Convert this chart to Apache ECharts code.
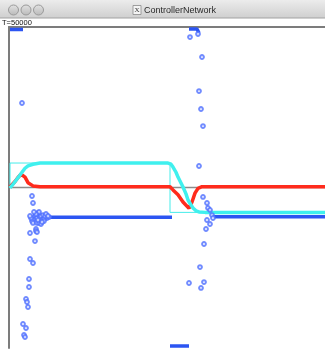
<!DOCTYPE html>
<html>
<head>
<meta charset="utf-8">
<script src="https://cdn.jsdelivr.net/npm/echarts/dist/echarts.min.js"></script>
<style>
html, body { margin: 0; padding: 0; background: #fff; }
#chart { width: 325px; height: 354px; }
</style>
</head>
<body>
<div id="chart"></div>
<script>
// Setpoint (thin step line)
const stepT = [1, 1, 161, 161, 316];
const stepV = [0, 0.305, 0.305, -0.31, -0.31];

// Plant output (cyan)
const outT = [1, 5, 8, 11, 13, 16, 19, 24, 31, 159, 162, 164, 167, 169, 172, 174, 177, 179, 182, 184, 187, 190, 196, 316];
const outV = [-0.006, 0.056, 0.106, 0.156, 0.19, 0.24, 0.27, 0.29, 0.305, 0.305, 0.29, 0.255, 0.19, 0.13, 0.056, 0.006, -0.08, -0.156, -0.218, -0.255, -0.29, -0.305, -0.31, -0.31];

// Controller error (red)
const errT = [1, 3, 6, 9, 12, 14, 16, 19, 24, 31, 161, 164, 169, 174, 180, 183, 186, 189, 193, 316];
const errV = [0.006, 0.025, 0.075, 0.125, 0.165, 0.18, 0.13, 0.06, 0.02, 0.009, 0.009, -0.03, -0.09, -0.18, -0.26, -0.18, -0.07, -0.01, 0.01, 0.01];

// Control signal, settled / saturated stretches (blue, null = gap)
const ctlRunT = [1, 14, null, 36, 163, null, 161, 180, null, 180, 188, 190, null, 204, 316];
const ctlRunV = [1.97, 1.97, null, -0.37, -0.37, null, -1.975, -1.975, null, 1.975, 1.975, 1.925, null, -0.365, -0.365];

// Control signal, transient samples (blue circles)
const ctlT = [13, 23, 24, 29, 26, 27, 28, 31, 32, 33, 34, 24, 23, 24, 28, 30, 32, 38, 40, 35, 27, 21, 27, 28, 26, 21, 24, 20, 20, 17, 18, 19, 14, 17, 15, 16,
  36, 37, 39, 35, 30, 27, 25, 22, 21, 29, 33,
  189, 181, 193, 190, 192, 194, 190, 194, 198, 199, 201, 203, 204, 198, 201, 197, 195, 191, 180, 195, 192];
const ctlV = [1.053, -0.106, -0.193, -0.318, -0.355, -0.343, -0.38, -0.368, -0.355, -0.405, -0.343, -0.405, -0.418, -0.442, -0.442, -0.442, -0.455, -0.38, -0.368, -0.393, -0.517, -0.567, -0.542, -0.555, -0.667, -0.891, -0.941, -1.14, -1.24, -1.389, -1.427, -1.489, -1.701, -1.751, -1.838, -1.863,
  -0.355, -0.33, -0.355, -0.418, -0.305, -0.33, -0.305, -0.38, -0.355, -0.405, -0.43,
  1.913, 1.875, 1.626, 1.202, 0.978, 0.766, 0.268, -0.118, -0.193, -0.255, -0.28, -0.343, -0.38, -0.405, -0.455, -0.517, -0.704, -0.991, -1.19, -1.178, -1.252];

const windowTitle = 'ControllerNetwork';
const timeLabel = 'T=50000';

function pairs(xs, ys) {
  return xs.map((x, i) => (x === null ? [null, null] : [x, ys[i]]));
}

const chart = echarts.init(document.getElementById('chart'), null, { renderer: 'canvas' });

const buttonFill = {
  type: 'linear', x: 0, y: 0, x2: 0, y2: 1,
  colorStops: [{ offset: 0, color: '#e4e4e4' }, { offset: 1, color: '#b8b8b8' }]
};

chart.setOption({
  animation: false,
  backgroundColor: '#ffffff',
  grid: { left: 9, right: 0, top: 27, bottom: 6 },
  xAxis: {
    type: 'value', min: 0, max: 316, position: 'top',
    axisLine: { show: true, onZero: false, lineStyle: { color: '#7c7c7c', width: 2 } },
    axisTick: { show: false }, axisLabel: { show: false }, splitLine: { show: false }
  },
  yAxis: {
    type: 'value', min: -2, max: 2,
    axisLine: { show: true, onZero: false, lineStyle: { color: '#7c7c7c', width: 2 } },
    axisTick: { show: false }, axisLabel: { show: false }, splitLine: { show: false }
  },
  graphic: [
    {
      type: 'rect', left: 0, top: 0, z: 10,
      shape: { width: 325, height: 18 },
      style: { fill: { type: 'linear', x: 0, y: 0, x2: 0, y2: 1,
        colorStops: [{ offset: 0, color: '#ececec' }, { offset: 1, color: '#cfcfcf' }] } }
    },
    { type: 'line', z: 11, shape: { x1: 0, y1: 18, x2: 325, y2: 18 }, style: { stroke: '#a2a2a2', lineWidth: 1 } },
    { type: 'circle', z: 11, shape: { cx: 13.5, cy: 10, r: 5 }, style: { fill: buttonFill, stroke: '#9a9a9a', lineWidth: 1 } },
    { type: 'circle', z: 11, shape: { cx: 26, cy: 10, r: 5 }, style: { fill: buttonFill, stroke: '#9a9a9a', lineWidth: 1 } },
    { type: 'circle', z: 11, shape: { cx: 38.5, cy: 10, r: 5 }, style: { fill: buttonFill, stroke: '#9a9a9a', lineWidth: 1 } },
    { type: 'rect', z: 11, shape: { x: 133, y: 5.5, width: 8, height: 9 }, style: { fill: '#f4f4f4', stroke: '#8a8a8a', lineWidth: 0.8 } },
    { type: 'text', z: 12, x: 137, y: 10, style: { text: 'X', font: '7px "Liberation Serif"', fill: '#333', align: 'center', verticalAlign: 'middle' } },
    { type: 'text', z: 12, x: 144, y: 10.5, style: { text: windowTitle, font: '9px "Liberation Sans"', fill: '#2a2a2a', verticalAlign: 'middle' } },
    { type: 'text', z: 12, x: 2, y: 22.5, style: { text: timeLabel, font: '7.5px "Liberation Sans"', fill: '#111', verticalAlign: 'middle' } }
  ],
  series: [
    {
      name: 'zero', type: 'line', data: [[0, 0], [316, 0]], showSymbol: false, silent: true, z: 1,
      lineStyle: { color: '#8c8c8c', width: 1.5 }
    },
    {
      name: 'setpoint', type: 'line', data: pairs(stepT, stepV), showSymbol: false, silent: true, z: 2,
      lineStyle: { color: '#45ecea', width: 1 }
    },
    {
      name: 'error', type: 'line', data: pairs(errT, errV), showSymbol: false, z: 3,
      lineStyle: { color: '#ff2b1c', width: 3.5 }
    },
    {
      name: 'output', type: 'line', data: pairs(outT, outV), showSymbol: false, z: 4,
      lineStyle: { color: '#3ff0ee', width: 3.5 }
    },
    {
      name: 'controlRun', type: 'line', data: pairs(ctlRunT, ctlRunV), showSymbol: false, connectNulls: false, z: 5,
      lineStyle: { color: '#2c55f2', width: 3.5 }
    },
    {
      name: 'control', type: 'scatter', data: pairs(ctlT, ctlV), symbol: 'emptyCircle', symbolSize: 3.8, z: 6,
      itemStyle: { color: '#4f6fff', borderWidth: 0.9 }
    }
  ]
});
</script>
</body>
</html>
